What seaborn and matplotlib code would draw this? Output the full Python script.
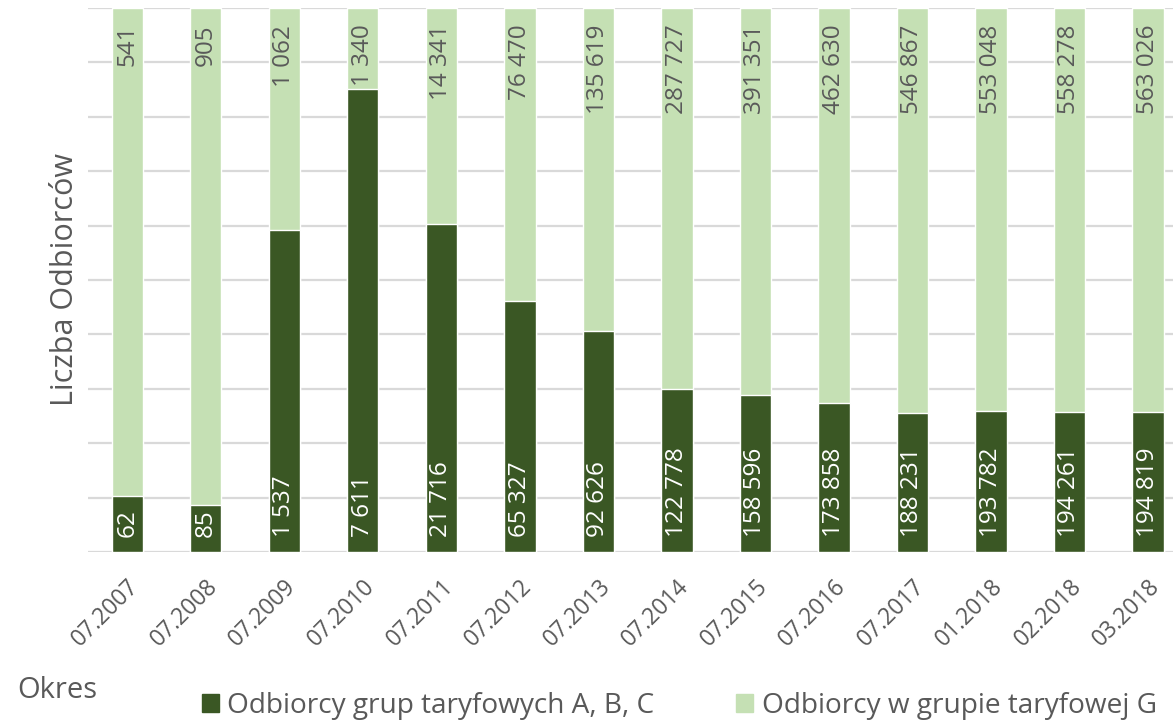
import numpy as np
import pandas as pd
import matplotlib.pyplot as plt
import seaborn as sns
from matplotlib.patches import Patch

# Data
periods = ['07.2007', '07.2008', '07.2009', '07.2010', '07.2011', '07.2012', '07.2013',
           '07.2014', '07.2015', '07.2016', '07.2017', '01.2018', '02.2018', '03.2018']
abc_counts = [62, 85, 1537, 7611, 21716, 65327, 92626,
              122778, 158596, 173858, 188231, 193782, 194261, 194819]
g_counts = [541, 905, 1062, 1340, 14341, 76470, 135619,
            287727, 391351, 462630, 546867, 553048, 558278, 563026]

dark = '#3a5724'
light = '#c5e0b4'
text_gray = '#595959'

df = pd.DataFrame({'Okres': periods, 'ABC': abc_counts, 'G': g_counts})
df['total'] = df['ABC'] + df['G']
df['abc_share'] = df['ABC'] / df['total']
df['full'] = 1.0

sns.set_style('white')
plt.rcParams['font.family'] = ['Open Sans', 'DejaVu Sans']


def fmt(v):
    return f'{v:,}'.replace(',', ' ')


fig = plt.figure(figsize=(11.73, 7.22), dpi=100)
ax = fig.add_axes([88 / 1173, 170 / 722, 1085 / 1173, 544 / 722])

# 100% stacked: full light bar, dark share drawn over it
sns.barplot(data=df, x='Okres', y='full', color=light, width=0.4, saturation=1, ax=ax)
sns.barplot(data=df, x='Okres', y='abc_share', color=dark, width=0.4, saturation=1, ax=ax)

ax.set_xlim(-0.5, 13.32)
ax.set_ylim(0, 1)
ax.set_yticks(np.arange(0, 1.01, 0.1))
ax.set_yticklabels([])
ax.tick_params(axis='y', length=0)
ax.yaxis.grid(True, color='#d9d9d9', linewidth=1.6)
ax.set_axisbelow(True)
sns.despine(ax=ax, left=True, bottom=True, top=True, right=True)

# Value labels
for i, (a, g) in enumerate(zip(abc_counts, g_counts)):
    ax.annotate(fmt(a), xy=(i, 0), xytext=(0, 11), textcoords='offset points',
                rotation=90, ha='center', va='bottom', color='white', fontsize=17.5)
    ax.annotate(fmt(g), xy=(i, 1), xytext=(0, -12), textcoords='offset points',
                rotation=90, ha='center', va='top', color=text_gray, fontsize=17.5)

ax.set_xlabel('')
ax.set_ylabel('Liczba Odbiorców', fontsize=22, color=text_gray, labelpad=2)
ax.tick_params(axis='x', length=0, labelsize=16.5, labelcolor=text_gray, pad=16)
plt.setp(ax.get_xticklabels(), rotation=45, ha='right', rotation_mode='anchor')

fig.text(17 / 1173, 1 - 690 / 722, 'Okres', fontsize=21, color=text_gray, va='center', ha='left')

handles = [Patch(color=dark, label='Odbiorcy grup taryfowych A, B, C'),
           Patch(color=light, label='Odbiorcy w grupie taryfowej G')]
leg = fig.legend(handles=handles, loc='center', bbox_to_anchor=(0.579, 0.022), ncol=2,
                 frameon=False, fontsize=20.2, handlelength=0.62, handleheight=0.62,
                 handletextpad=0.3, columnspacing=2.9, borderpad=0)
for t in leg.get_texts():
    t.set_color(text_gray)

fig.savefig('out.png', dpi=100)
